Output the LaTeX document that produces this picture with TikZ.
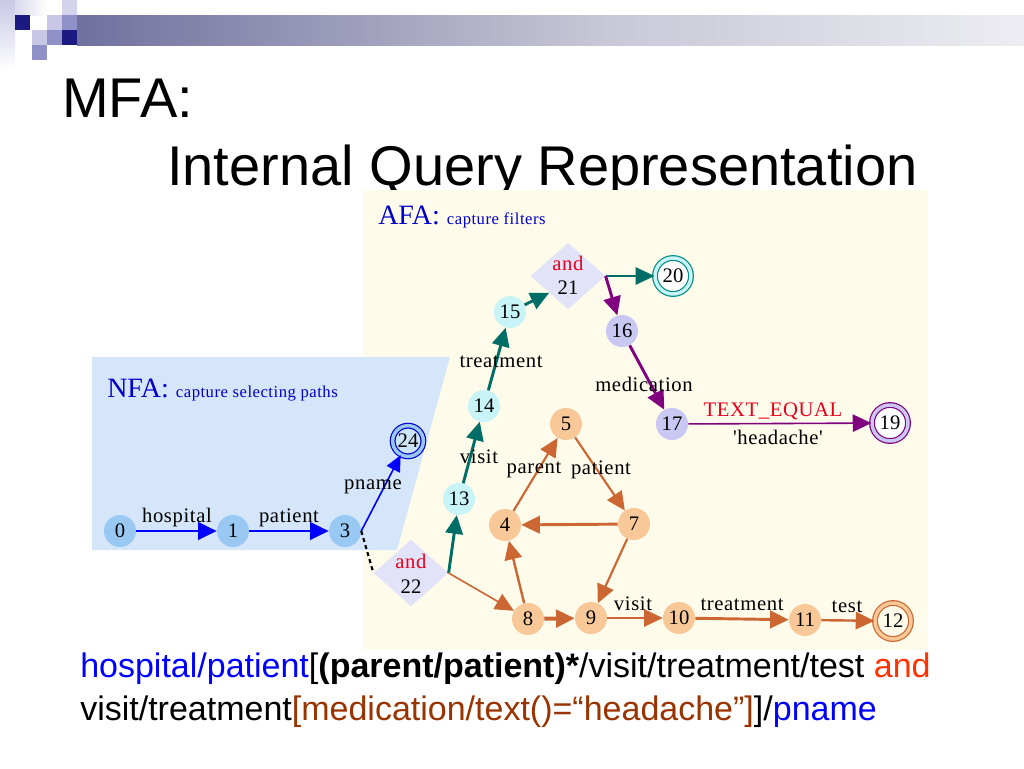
\documentclass[tikz,border=0pt]{standalone}
\usepackage{fontspec}
\setmainfont{Liberation Serif}
\newfontfamily\arial{Liberation Sans}
\newfontfamily\lbl[LetterSpace=3]{Liberation Serif}
\usetikzlibrary{arrows.meta,shapes.geometric}
\definecolor{navy}{HTML}{1A1A80}
\definecolor{barA}{HTML}{6A6A9A}
\definecolor{barB}{HTML}{C8C8D7}
\definecolor{barC}{HTML}{EEEEF3}
\definecolor{nfabg}{HTML}{D5E6FA}
\definecolor{afabg}{HTML}{FEFBEA}
\definecolor{nfanode}{HTML}{99C8F2}
\definecolor{cyannode}{HTML}{C8F4F8}
\definecolor{lavnode}{HTML}{C8C8F2}
\definecolor{peach}{HTML}{F8C898}
\definecolor{diacol}{HTML}{E2E2F8}
\definecolor{eblue}{HTML}{0000FF}
\definecolor{eteal}{HTML}{006E66}
\definecolor{epurple}{HTML}{800080}
\definecolor{eorange}{HTML}{CC6633}
\definecolor{hdrblue}{HTML}{0000CC}
\definecolor{andred}{HTML}{E8001C}
\definecolor{qorange}{HTML}{FF3300}
\definecolor{qbrown}{HTML}{993300}
\definecolor{sqlight}{HTML}{C8C8E6}
\definecolor{sqmed}{HTML}{9090C8}
\pgfdeclarehorizontalshading{barshade}{100bp}{color(0bp)=(navy); color(23bp)=(barA); color(53bp)=(barB); color(76bp)=(barC); color(100bp)=(white)}
\tikzset{
  st/.style={circle, inner sep=0pt, minimum size=24pt, font=\fontsize{15.5}{15.5}\selectfont},
  nfa/.style={st, fill=nfanode},
  cya/.style={st, fill=cyannode},
  lav/.style={st, fill=lavnode},
  pch/.style={st, fill=peach},
  fin/.style={circle, inner sep=0pt, minimum size=27pt, line width=0.9pt, double distance=2.6pt, font=\fontsize{15.5}{15.5}\selectfont},
  dia/.style={diamond, inner sep=0pt, minimum width=56pt, minimum height=50pt, fill=diacol},
  lab/.style={font=\lbl\fontsize{15.5}{15.5}\selectfont, inner sep=0pt},
  tip/.style={-{Triangle[length=14pt,width=13pt]}},
  tipsm/.style={-{Triangle[length=12pt,width=11pt]}},
  thk/.style={line width=2.2pt},
  thn/.style={line width=1.2pt},
}
\begin{document}
\begin{tikzpicture}[x=0.75pt,y=-0.75pt]
\useasboundingbox (0,0) rectangle (1024,768);
% header decoration
\shade[top color=sqlight, bottom color=white] (0,0) rectangle (15,70);
\shade[left color=sqlight!70, right color=white] (15,0) rectangle (47,15);
\fill[navy] (15,15) rectangle (30,30);
\fill[sqlight] (47,15) rectangle (62,30);
\fill[sqmed] (62,15) rectangle (77,30);
\fill[sqlight!80] (62,0) rectangle (77,15);
\fill[sqlight] (32,30) rectangle (47,45);
\fill[sqmed] (47,30) rectangle (62,45);
\fill[sqmed] (32,45) rectangle (47,60);
\fill[navy] (62,30) rectangle (77,45);
\shade[shading=barshade] (77,15) rectangle (1024,45);
% title
\node[anchor=base west, inner sep=0pt, font=\arial\fontsize{42}{42}\selectfont] (t1) at (62,117) {MFA:};
\node[anchor=base west, inner sep=0pt, font=\arial\fontsize{42}{42}\selectfont] (t2) at (167,185) {Internal Query Representation};
% backgrounds
\fill[afabg] (363,190) rectangle (928,650);
\fill[nfabg] (92,357) -- (450,357) -- (397,550) -- (92,550) -- cycle;
\node[anchor=base west, inner sep=0pt, text=hdrblue] (nfah) at (107,397) {\fontsize{21}{22}\selectfont NFA: \lbl\fontsize{12.5}{13}\selectfont capture selecting paths};
\node[anchor=base west, inner sep=0pt, text=hdrblue] (afah) at (378,224) {\fontsize{21}{22}\selectfont AFA: \lbl\fontsize{12.5}{13}\selectfont capture filters};
% nodes
\node[nfa] (n0) at (120,531) {0};
\node[nfa] (n1) at (233,531) {1};
\node[nfa] (n3) at (345,531) {3};
\node[fin, minimum size=23pt, draw=blue!80!black, double=nfanode, fill=nfanode!50!white] (n24) at (408,441) {24};
\node[dia] (d22) at (411,573) {};
\node[inner sep=0pt, text=andred, font=\lbl\fontsize{15.5}{15.5}\selectfont] (a22) at (411,561) {and};
\node[inner sep=0pt, font=\fontsize{15.5}{15.5}\selectfont] (l22) at (411,587) {22};
\node[dia] (d21) at (568,276) {};
\node[inner sep=0pt, text=andred, font=\lbl\fontsize{15.5}{15.5}\selectfont] (a21) at (568,263) {and};
\node[inner sep=0pt, font=\fontsize{15.5}{15.5}\selectfont] (l21) at (568,288) {21};
\node[cya] (n13) at (459,499) {13};
\node[cya] (n14) at (484,406) {14};
\node[cya] (n15) at (510,312) {15};
\node[fin, draw=eteal!80!cyan, double=cyannode, fill=white] (n20) at (673,276) {20};
\node[lav] (n16) at (622,331) {16};
\node[lav] (n17) at (672,424) {17};
\node[fin, draw=epurple, double=lavnode, fill=white] (n19) at (890,423) {19};
\node[pch] (n5) at (566,424) {5};
\node[pch] (n4) at (505,525) {4};
\node[pch] (n7) at (634,524) {7};
\node[pch] (n8) at (528,619) {8};
\node[pch] (n9) at (591,618) {9};
\node[pch] (n10) at (679,618) {10};
\node[pch] (n11) at (805,620) {11};
\node[fin, draw=eorange, double=peach, fill=afabg] (n12) at (893,621) {12};
% edges NFA
\draw[eblue, thk, tip] (n0) -- (n1);
\draw[eblue, thk, tip] (n1) -- (n3);
\draw[eblue, thn, tipsm] (n3.east) -- (n24);
\draw[black, line width=1.6pt, dash pattern=on 3pt off 2.5pt] (n3.east) -- (d22.west);
% edges AFA teal
\draw[eteal, thk, tip] (d22.east) -- (n13);
\draw[eteal, thk, tip] (n13) -- (n14);
\draw[eteal, thk, tip] (n14) -- (n15);
\draw[eteal, thk, tip] (n15) -- (d21.south west);
\draw[eteal, thn, tip] (d21.east) -- (n20);
% purple
\draw[epurple, thk, tip] (d21.east) -- (n16);
\draw[epurple, thk, tip] (n16) -- (n17);
\draw[epurple, thn, tip] (n17) -- (n19);
% orange
\draw[eorange, thn, tip] (d22.east) -- (n8);
\draw[eorange, line width=1.6pt, tip] (n4) -- (n5);
\draw[eorange, line width=1.6pt, tip] (n5) -- (n7);
\draw[eorange, thk, tip] (n7) -- (n4);
\draw[eorange, line width=1.6pt, tip] (n7) -- (n9);
\draw[eorange, line width=1.8pt, tip] (n8) -- (n4);
\draw[eorange, line width=3pt, tip] (n8) -- (n9);
\draw[eorange, thn, tip] (n9) -- (n10);
\draw[eorange, thk, tip] (n10) -- (n11);
\draw[eorange, line width=1.8pt, tip] (n11) -- (n12);
% edge labels
\node[lab] (lhos) at (177,518) {hospital};
\node[lab] (lpat) at (289,518) {patient};
\node[lab] (lpn) at (373,487) {pname};
\node[lab] (lvis1) at (479,457) {visit};
\node[lab] (ltr1) at (501,362) {treatment};
\node[lab] (lmed) at (644,384) {medication};
\node[lab] (lpar) at (534,470) {parent};
\node[lab] (lpat2) at (601,470) {patient};
\node[lab, text=andred] (lte) at (773,411) {TEXT\_EQUAL};
\node[lab] (lhd) at (778,437) {'headache'};
\node[lab] (lvis2) at (633,604) {visit};
\node[lab] (ltr2) at (742,605) {treatment};
\node[lab] (ltest) at (847,607) {test};
% query text
\node[anchor=base west, inner sep=0pt, font=\arial\fontsize{25.5}{30}\selectfont] (q1) at (80,677)
  {\textcolor{eblue}{hospital/patient}[\textbf{(parent/patient)*}/visit/treatment/test \textcolor{qorange}{and}};
\node[anchor=base west, inner sep=0pt, font=\arial\fontsize{25.5}{30}\selectfont] (q2) at (80,720)
  {visit/treatment\textcolor{qbrown}{[medication/text()=“headache”]}]/\textcolor{eblue}{pname}};
\end{tikzpicture}
\end{document}
